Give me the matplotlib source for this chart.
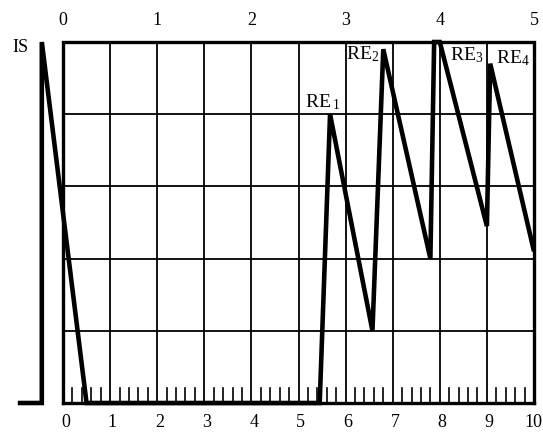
import matplotlib.pyplot as plt
import numpy as np

plt.rcParams['font.family'] = ['Liberation Serif', 'DejaVu Serif']
plt.rcParams['mathtext.fontset'] = 'custom'
plt.rcParams['mathtext.rm'] = 'Liberation Serif'
plt.rcParams['mathtext.it'] = 'Liberation Serif'

# данные кривой (нижняя шкала 0..10, высота 0..5)
curve_x = [-0.96, -0.45, -0.45, 0.5, 5.45, 5.67, 6.57, 6.8, 7.8, 7.88, 8.0, 9.0, 9.07, 10.0]
curve_y = [0.0, 0.0, 5.0, 0.0, 0.0, 4.0, 1.0, 4.9, 2.0, 5.0, 5.0, 2.45, 4.7, 2.1]

bottom_ticks = list(range(0, 11))
top_ticks = [0, 1, 2, 3, 4, 5]
row_lines = [1, 2, 3, 4]

peak_labels = ['RE$\\,_{1}$', 'RE$_{2}$', 'RE$_{3}$', 'RE$_{4}$']
peak_label_x = [5.52, 6.37, 8.56, 9.55]
peak_label_y = [4.17, 4.83, 4.82, 4.78]

fig = plt.figure(figsize=(5.43, 4.33), dpi=100)
ax = fig.add_axes([0, 0, 1, 1])
# пиксели -> данные: x_px = 63 + 47.1*x, y_px = 403 - 72.2*y
ax.set_xlim(-63 / 47.1, (543 - 63) / 47.1)
ax.set_ylim(-(433 - 403) / 72.2, 403 / 72.2)
ax.axis('off')

# сетка
for x in bottom_ticks[1:-1]:
    ax.plot([x, x], [0, 5], color='black', lw=1.3)
for y in row_lines:
    ax.plot([0, 10], [y, y], color='black', lw=1.3)

# рамка
ax.plot([0, 0, 10, 10], [0, 5, 5, 0], color='black', lw=2.4, solid_joinstyle='miter')
ax.plot([0, 10], [0, 0], color='black', lw=2.4)

# мелкие деления
for x in np.arange(0, 10, 0.2):
    if abs(x - round(x)) > 1e-6:
        ax.plot([x, x], [0, 0.21], color='black', lw=1.2)

# кривая
ax.plot(curve_x, curve_y, color='black', lw=3.3, solid_joinstyle='miter',
        solid_capstyle='butt')

# подписи
for t in bottom_ticks:
    dx = 0.05 if t < 10 else -0.02
    ax.text(t + dx, -0.27, str(t), ha='center', va='center', fontsize=13)
for t in top_ticks:
    ax.text(2 * t, 5.3, str(t), ha='center', va='center', fontsize=13)

ax.text(-0.91, 4.93, 'IS', ha='center', va='center', fontsize=13)
for lab, lx, ly in zip(peak_labels, peak_label_x, peak_label_y):
    ax.text(lx, ly, lab, ha='center', va='center', fontsize=14)

plt.savefig('out.png', dpi=100)
plt.close()
